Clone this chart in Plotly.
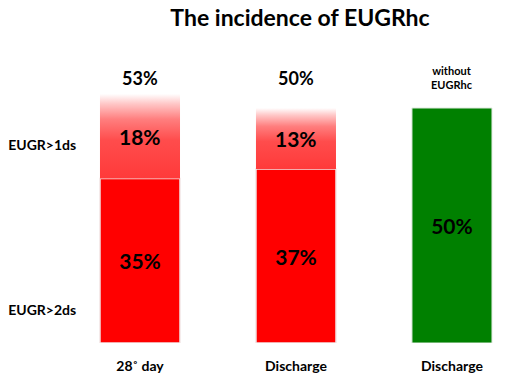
import plotly.graph_objects as go

# ---- data ----
x_labels = ["28˚ day", "Discharge", "Discharge"]
x_pos = [0, 1, 2]
eugr2 = [35, 37, None]          # EUGR>2ds (bottom segment)
eugr1 = [18, 13, None]          # EUGR>1ds (top segment, gradient)
without = [None, None, 50]      # without EUGRhc
totals = ["53%", "50%", None]
row_labels = ["EUGR>1ds", "EUGR>2ds"]
row_label_y = [42.1, 7.0]

FONT = "Lato"
RED = "#ff0000"
GREEN = "#008000"
BW = 0.513

fig = go.Figure()

# bottom segments
fig.add_trace(go.Bar(
    x=[x_pos[i] for i in range(3) if eugr2[i] is not None],
    y=[v for v in eugr2 if v is not None],
    width=BW, marker=dict(color=RED, line=dict(color="#f2e6e6", width=1.5)),
    text=[f"{v}%" for v in eugr2 if v is not None], textposition="inside",
    insidetextanchor="middle",
    textfont=dict(family=FONT, size=21, color="black", weight="bold"),
    showlegend=False, hoverinfo="skip"))

# green bar
fig.add_trace(go.Bar(
    x=[x_pos[i] for i in range(3) if without[i] is not None],
    y=[v for v in without if v is not None],
    width=BW, marker=dict(color=GREEN, line=dict(color="#dfe8df", width=1)),
    text=[f"{v}%" for v in without if v is not None], textposition="inside",
    insidetextanchor="middle",
    textfont=dict(family=FONT, size=21, color="black", weight="bold"),
    showlegend=False, hoverinfo="skip"))

# top segments with vertical gradient
for i in range(3):
    if eugr1[i] is None:
        continue
    base = eugr2[i]
    top = base + eugr1[i]
    x0, x1 = x_pos[i] - BW / 2, x_pos[i] + BW / 2
    fig.add_trace(go.Scatter(
        x=[x0, x1, x1, x0, x0], y=[base, base, top, top, base],
        mode="lines", fill="toself", line=dict(width=0),
        fillgradient=dict(type="vertical", start=base, stop=top,
                          colorscale=[[0, "#ff3a3a"], [0.45, "#ff4c4c"],
                                      [0.7, "#ff7e7e"], [0.88, "#ffc6c6"],
                                      [1, "#ffffff"]]),
        showlegend=False, hoverinfo="skip"))
    fig.add_annotation(x=x_pos[i], y=base + eugr1[i] / 2, text=f"{eugr1[i]}%",
                       showarrow=False,
                       font=dict(family=FONT, size=21, color="black", weight="bold"))
    fig.add_annotation(x=x_pos[i], y=56.4, text=totals[i], showarrow=False,
                       font=dict(family=FONT, size=18, color="black", weight="bold"))

fig.add_annotation(x=2, y=56.5, text="without<br>EUGRhc", showarrow=False,
                   font=dict(family=FONT, size=11, color="black", weight="bold"))

fig.update_layout(
    width=510, height=380,
    margin=dict(l=90, r=0, t=14, b=37),
    paper_bgcolor="white", plot_bgcolor="white",
    barmode="overlay",
    title=dict(text="The incidence of EUGRhc", x=0.5, xref="paper", xanchor="center",
               y=1 - 18 / 380, yref="container", yanchor="middle", automargin=False,
               font=dict(family=FONT, size=23, color="black", weight="bold")),
    xaxis=dict(range=[-0.3205, 2.372], tickvals=x_pos, ticktext=x_labels,
               showgrid=False, zeroline=False, showline=False, automargin=False,
               ticks="outside", ticklen=10, tickcolor="rgba(0,0,0,0)",
               tickfont=dict(family=FONT, size=14, color="black", weight="bold")),
    yaxis=dict(range=[0, 70], tickvals=row_label_y, ticktext=row_labels,
               showgrid=False, zeroline=False, showline=False, automargin=False,
               ticks="outside", ticklen=10, tickcolor="rgba(0,0,0,0)",
               tickfont=dict(family=FONT, size=14, color="black", weight="bold")),
)

fig.write_html("out.html", config={"displayModeBar": False},
               post_script="document.body.style.margin='0';document.body.style.overflow='hidden';")
